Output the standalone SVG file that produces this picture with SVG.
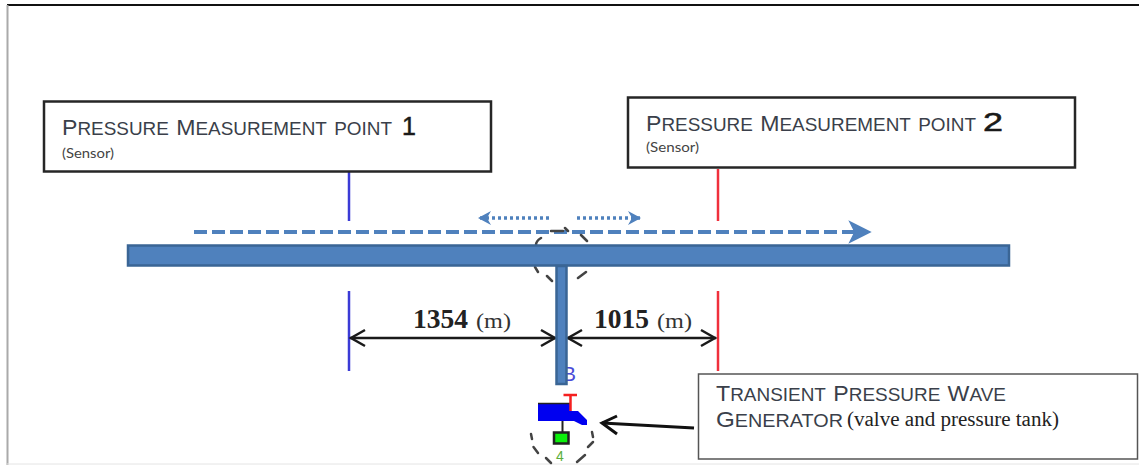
<svg xmlns="http://www.w3.org/2000/svg" width="1139" height="465" viewBox="0 0 1139 465">
<style>
.box{fill:#fff;stroke:#262626;stroke-width:2.5}
.cap{font-family:"Liberation Sans",Arial,sans-serif;font-variant:small-caps;font-size:25px;fill:#3a3f4a}
.cap .u{font-size:22px}
.num{font-family:"Liberation Sans",Arial,sans-serif;font-size:25px;fill:#1a1a1a;stroke:#1a1a1a;stroke-width:.5}
.sen{font-family:Lato,"Liberation Sans",sans-serif;font-size:13.5px;fill:#444}
.ser{font-family:"Liberation Serif",serif;fill:#222}
.val{font-size:27.5px;font-weight:bold}
.unit{font-size:22px;fill:#333}
.dim{stroke:#1a1a1a;stroke-width:2.5;fill:none}
.dash{fill:none;stroke:#444;stroke-width:2.5;stroke-linecap:round}
</style>
<defs>
<marker id="ah" markerUnits="userSpaceOnUse" markerWidth="20" markerHeight="20" refX="18" refY="10" orient="auto-start-reverse"><path d="M3 2 L17 10 L3 18" fill="none" stroke="#1a1a1a" stroke-width="2.500"/></marker>
<marker id="sh" markerUnits="userSpaceOnUse" markerWidth="16" markerHeight="18" refX="14" refY="9" orient="auto-start-reverse"><path d="M1 2 L14 9 L1 16 L5 9Z" fill="#4f81bd"/></marker>
</defs>
<g id="frame">
<path d="M1139 5 H7" fill="none" stroke="#111" stroke-width="2"/>
<path d="M7.5 5 V465" fill="none" stroke="#aaa" stroke-width="2"/>
<path d="M7 464 H1139" fill="none" stroke="#e4e4e4" stroke-width="1"/>
</g>
<g id="connectors">
<path d="M349 172 V221" stroke="#3b3bd6" stroke-width="2.500" fill="none"/>
<path d="M718 169 V221" stroke="#f0303c" stroke-width="2.500" fill="none"/>
<path d="M349 291 V371" stroke="#3b3bd6" stroke-width="2.500" fill="none"/>
<path d="M718 291 V371" stroke="#f0303c" stroke-width="2.500" fill="none"/>
<path d="M194 232 H856" stroke="#4f81bd" stroke-width="4" stroke-dasharray="13 5" fill="none"/>
<path d="M850 222 L870 232 L850 242 L855 232Z" fill="#4f81bd" stroke="#4f81bd" stroke-width="1.500"/>
<path d="M549 218 H478" stroke="#4f81bd" stroke-width="3.500" stroke-dasharray="3 3" fill="none" marker-end="url(#sh)"/>
<path d="M577 218 H641" stroke="#4f81bd" stroke-width="3.500" stroke-dasharray="3 3" fill="none" marker-end="url(#sh)"/>
<path class="dim" d="M350 338 H556" marker-start="url(#ah)" marker-end="url(#ah)"/>
<path class="dim" d="M567 338 H716" marker-start="url(#ah)" marker-end="url(#ah)"/>
<path d="M694 428 L602 423" stroke="#111" stroke-width="3" fill="none"/>
<path d="M617 416 L602 423 L617 434" stroke="#111" stroke-width="3" fill="none"/>
</g>
<g id="zone-a">
<path class="dash" d="M536 245 Q536 241 541 238 M551 231 H563 M565 228 L568 231 M581 235 L587 241 M535 267 L538 272 M547 276 L552 281 M578 278 L586 272"/>
</g>
<g id="main-pipe">
<rect x="128" y="245.500" width="881" height="20" fill="#4f81bd" stroke="#3a6595" stroke-width="2.500"/>
</g>
<g id="branch-pipe">
<text x="562" y="381" font-family="Liberation Sans,sans-serif" font-size="21" fill="#4b4bd8">B</text>
<rect x="556.500" y="266" width="10" height="118" fill="#4f81bd" stroke="#3a6595" stroke-width="2.500"/>
</g>
<g id="valve">
<path d="M538 403.500 H570 V411 H574 L578 411 L587 420 V425 H582 L574 421 H538Z" fill="#0000f0"/>
<path d="M538 403.500 H570" stroke="#222" stroke-width="1.500" fill="none"/>
<path d="M563.500 395 H577 M570.500 395 V411" stroke="#f52020" stroke-width="2.500" fill="none"/>
<path d="M562.500 421 V433" stroke="#222" stroke-width="2"/>
<rect x="554" y="432.500" width="14.500" height="11" fill="#0bf00b" stroke="#222" stroke-width="2.500"/>
<path class="dash" d="M531 434 L532 439 M533.500 447 L538 453 M546 458 L551 463 M577 462 L585 455 M588 447 L593 442 M592 432 L593 437"/>
<text x="556" y="461" font-family="Liberation Sans,sans-serif" font-size="14" fill="#5cae3c">4</text>
</g>
<g id="sensor-1">
<rect class="box" x="44" y="101.500" width="447" height="70"/>
<text class="cap" x="62" y="135" textLength="330" lengthAdjust="spacingAndGlyphs"><tspan class="u">P</tspan>ressure <tspan class="u">M</tspan>easurement point</text>
<text class="num" x="402" y="135">1</text>
<text class="sen" x="62" y="158" textLength="52" lengthAdjust="spacingAndGlyphs">(Sensor)</text>
</g>
<g id="sensor-2">
<rect class="box" x="628" y="97.500" width="447" height="70"/>
<text class="cap" x="646" y="131" textLength="330" lengthAdjust="spacingAndGlyphs"><tspan class="u">P</tspan>ressure <tspan class="u">M</tspan>easurement point</text>
<text class="num" x="983" y="131" textLength="20" lengthAdjust="spacingAndGlyphs">2</text>
<text class="sen" x="646" y="152" textLength="53" lengthAdjust="spacingAndGlyphs">(Sensor)</text>
</g>
<g id="labels">
<text class="ser val" x="413" y="328">1354</text>
<text class="ser unit" x="476" y="328" textLength="35" lengthAdjust="spacingAndGlyphs">(m)</text>
<text class="ser val" x="594" y="328">1015</text>
<text class="ser unit" x="657" y="328" textLength="35" lengthAdjust="spacingAndGlyphs">(m)</text>
</g>
<g id="generator">
<rect x="698.500" y="374" width="439" height="85" fill="#fff" stroke="#555" stroke-width="1.500"/>
<text class="cap" x="716" y="401" textLength="290" lengthAdjust="spacingAndGlyphs"><tspan class="u">T</tspan>ransient <tspan class="u">P</tspan>ressure <tspan class="u">W</tspan>ave</text>
<text class="cap" x="716" y="427" textLength="127" lengthAdjust="spacingAndGlyphs"><tspan class="u">G</tspan>enerator</text>
<text class="ser" x="847" y="426" font-size="20" textLength="212" lengthAdjust="spacingAndGlyphs">(valve and pressure tank)</text>
</g>
</svg>
